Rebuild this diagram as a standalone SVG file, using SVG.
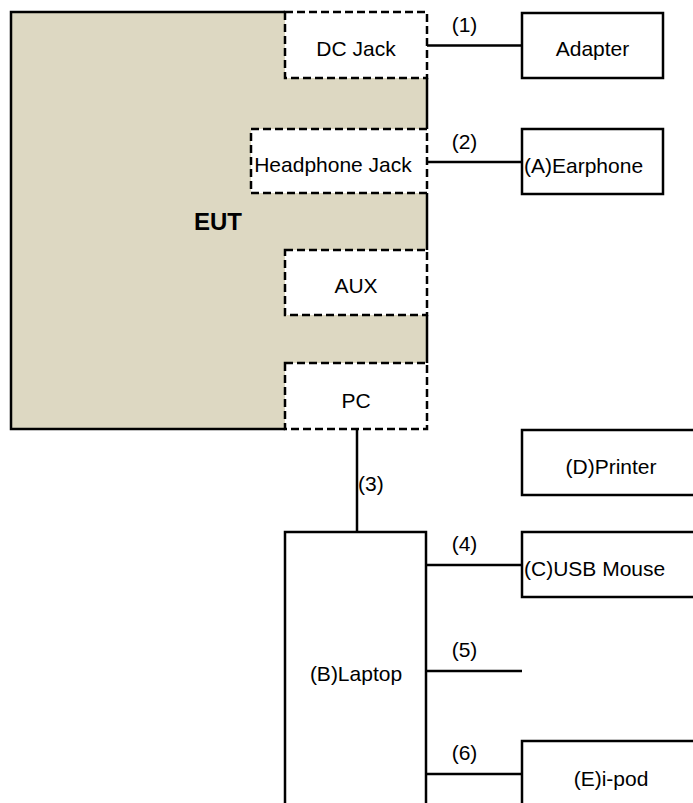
<svg xmlns="http://www.w3.org/2000/svg" width="693" height="803" viewBox="0 0 693 803">
<style>
text{font-family:"Liberation Sans",Arial,sans-serif;font-size:21px;fill:#000}
.c{text-anchor:middle}
.box{fill:#fff;stroke:#000;stroke-width:2.5}
.port{fill:#fff;stroke:#000;stroke-width:2.5;stroke-dasharray:8 4}
.ln{fill:none;stroke:#000;stroke-width:2.5}
</style>
<rect width="693" height="803" fill="#fff"/>
<g id="eut">
<rect x="11" y="12" width="416" height="417" fill="#DDD8C2"/>
<path class="ln" d="M285,12 H11 V429 H285 M427,78 V129 M427,193 V250 M427,315 V363"/>
<text x="218" y="230" class="c" style="font-weight:bold;font-size:24px">EUT</text>
</g>
<g id="dcjack">
<rect class="port" x="285" y="12" width="142" height="66"/>
<text x="356" y="56" class="c">DC Jack</text>
</g>
<g id="headphone">
<rect class="port" x="251" y="129" width="176" height="64"/>
<text x="333" y="172" class="c">Headphone Jack</text>
</g>
<g id="aux">
<rect class="port" x="285" y="250" width="142" height="65"/>
<text x="356" y="293" class="c">AUX</text>
</g>
<g id="pc">
<rect class="port" x="285" y="363" width="142" height="66"/>
<text x="356" y="408" class="c">PC</text>
</g>
<g id="adapter">
<rect class="box" x="522" y="13" width="141" height="65"/>
<text x="592.5" y="56" class="c">Adapter</text>
</g>
<g id="earphone">
<rect class="box" x="522" y="129" width="141" height="65"/>
<text x="524" y="173">(A)Earphone</text>
</g>
<g id="printer">
<rect class="box" x="522" y="430" width="180" height="65"/>
<text x="611" y="474" class="c">(D)Printer</text>
</g>
<g id="laptop">
<rect class="box" x="285" y="532" width="141" height="290"/>
<text x="356" y="681" class="c">(B)Laptop</text>
</g>
<g id="mouse">
<rect class="box" x="522" y="532" width="180" height="65"/>
<text x="524" y="576">(C)USB Mouse</text>
</g>
<g id="ipod">
<rect class="box" x="522" y="741" width="180" height="90"/>
<text x="611" y="786" class="c">(E)i-pod</text>
</g>
<g id="connectors">
<path class="ln" d="M427,45.5 H522 M427,162 H522 M357,429 V532 M426,565 H522 M426,671 H522 M426,774 H522"/>
<text x="464.5" y="32" class="c">(1)</text>
<text x="464.5" y="149" class="c">(2)</text>
<text x="358" y="491">(3)</text>
<text x="464.5" y="551" class="c">(4)</text>
<text x="464.5" y="657" class="c">(5)</text>
<text x="464.5" y="760" class="c">(6)</text>
</g>
</svg>
